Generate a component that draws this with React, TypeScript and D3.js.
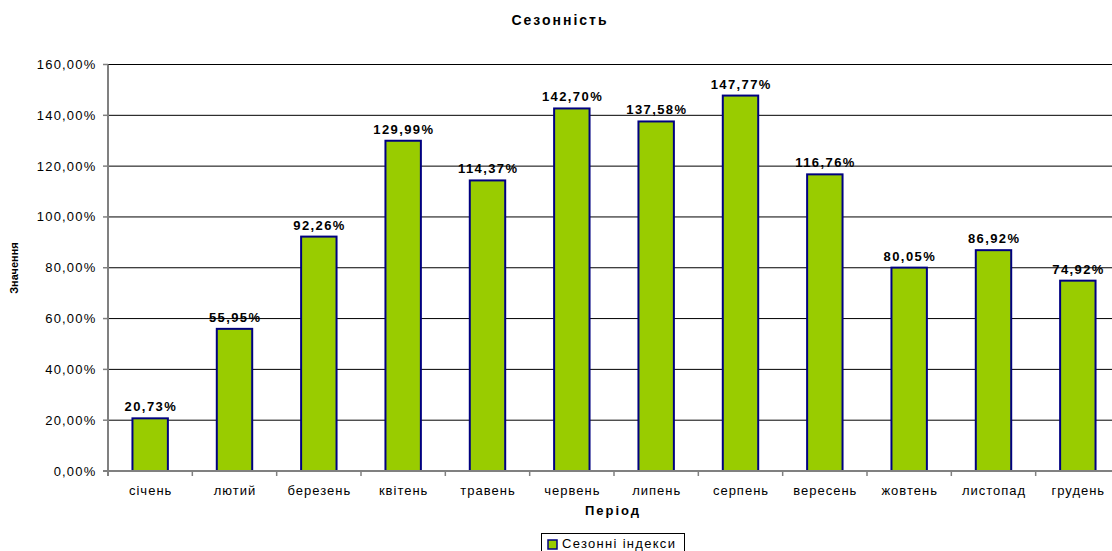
import React from "react";
import * as d3 from "d3";

const categories = ["січень","лютий","березень","квітень","травень","червень","липень","серпень","вересень","жовтень","листопад","грудень"];
const values = [20.73, 55.95, 92.26, 129.99, 114.37, 142.70, 137.58, 147.77, 116.76, 80.05, 86.92, 74.92];
const yTicks = [0, 20, 40, 60, 80, 100, 120, 140, 160];
const seriesName = "Сезонні індекси";

const W = 1112, H = 551;
const left = 108, right = 1120, top = 64.5, bottom = 471;
const font = "'Liberation Sans', Arial, sans-serif";
const fmt = (v: number) => v.toFixed(2).replace(".", ",") + "%";

export default function App() {
  const x = d3.scaleBand<string>().domain(categories).range([left, right]).paddingInner(0).paddingOuter(0);
  const y = d3.scaleLinear().domain([0, 160]).range([bottom, top]);
  const bw = x.bandwidth() * 0.42;
  return (
    <svg width={W} height={H} style={{ position: "absolute", left: 0, top: 0, background: "#fff" }} fontFamily={font}>
      <text x={560} y={25} textAnchor="middle" fontSize={14} fontWeight="bold" letterSpacing={2}>Сезонність</text>
      {yTicks.map(t => (
        <g key={t}>
          {t > 0 && <line x1={left} x2={right} y1={y(t)} y2={y(t)} stroke="#000" strokeWidth={1} />}
          <line x1={left - 5} x2={left} y1={y(t)} y2={y(t)} stroke="#808080" strokeWidth={1.5} />
          <text x={96.5} y={y(t)} dy="0.35em" textAnchor="end" fontSize={13} letterSpacing={1.2}>{fmt(t)}</text>
        </g>
      ))}
      {categories.map((c, i) => {
        const cx = (x(c) as number) + x.bandwidth() / 2;
        return (
          <g key={c}>
            <rect x={cx - bw / 2} y={y(values[i])} width={bw} height={bottom - y(values[i])} fill="#99CC00" stroke="#000080" strokeWidth={2} />
            <text x={cx + 0.7} y={y(values[i]) - 7} textAnchor="middle" fontSize={13} fontWeight="bold" letterSpacing={1.4}>{fmt(values[i])}</text>
            <text x={cx + 0.5} y={495} textAnchor="middle" fontSize={13} letterSpacing={1}>{c}</text>
            {i > 0 && <line x1={x(c) as number} x2={x(c) as number} y1={bottom} y2={bottom + 5} stroke="#808080" strokeWidth={1.5} />}
          </g>
        );
      })}
      <line x1={left} x2={left} y1={top} y2={bottom + 5} stroke="#808080" strokeWidth={2} />
      <line x1={left - 5} x2={right} y1={bottom} y2={bottom} stroke="#808080" strokeWidth={2} />
      <text x={613} y={515} textAnchor="middle" fontSize={13} fontWeight="bold" letterSpacing={2}>Період</text>
      <text transform={`translate(18,${268}) rotate(-90)`} textAnchor="middle" fontSize={11} fontWeight="bold">Значення</text>
      <rect x={541.5} y={533.5} width={143} height={24} fill="#fff" stroke="#000" strokeWidth={1} />
      <rect x={548} y={540} width={9} height={9} fill="#99CC00" stroke="#000080" strokeWidth={1.5} />
      <text x={562} y={548} fontSize={13} letterSpacing={1.3}>{seriesName}</text>
    </svg>
  );
}
